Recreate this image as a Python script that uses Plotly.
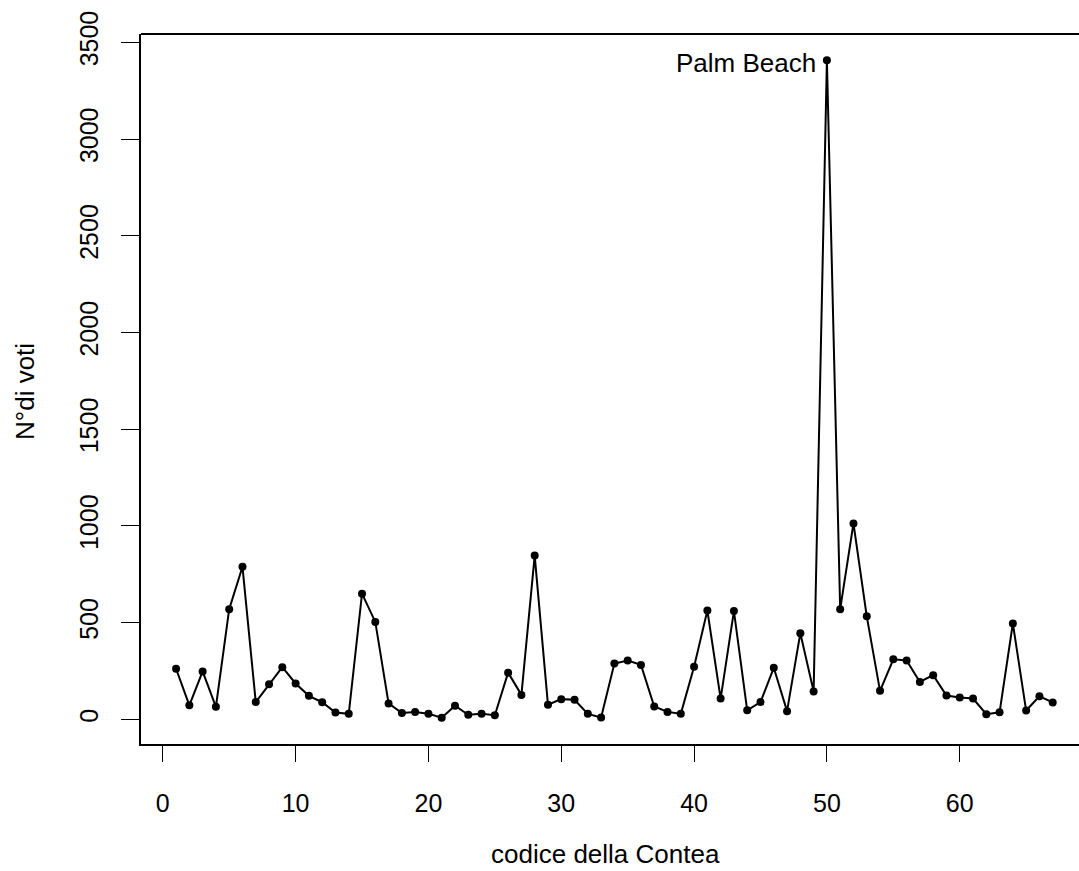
import plotly.graph_objects as go

county_code = list(range(1, 68))
votes = [262, 73, 248, 65, 570, 789, 90, 182, 270, 186,
         122, 89, 36, 29, 650, 504, 83, 33, 39, 29,
         9, 71, 24, 30, 22, 242, 127, 847, 76, 105,
         102, 29, 10, 289, 305, 282, 67, 39, 29, 272,
         563, 108, 560, 47, 90, 267, 43, 446, 145, 3407,
         570, 1013, 533, 148, 311, 305, 194, 229, 124, 114,
         108, 27, 37, 496, 46, 120, 88]
x_ticks = [0, 10, 20, 30, 40, 50, 60]
y_ticks = [0, 500, 1000, 1500, 2000, 2500, 3000, 3500]
label_idx = 49
label_text = "Palm Beach"

FONT = "Liberation Sans, Arial, sans-serif"

# plot region in pixels: left 141, right 1079, top 34, bottom 744
L, T, B = 141, 34, 744
W, H = 1079, 871

fig = go.Figure()
fig.add_trace(go.Scatter(
    x=county_code, y=votes, mode="lines+markers",
    line=dict(color="black", width=2),
    marker=dict(color="black", size=8, symbol="circle"),
    showlegend=False, hoverinfo="x+y"))

annotations = [
    dict(x=county_code[label_idx], y=votes[label_idx], xref="x", yref="y", text=label_text,
         showarrow=False, xanchor="right", yanchor="middle", xshift=-9, yshift=-3,
         font=dict(family=FONT, size=26, color="black")),
    dict(text="codice della Contea", xref="paper", yref="paper",
         x=(605 - L) / (W - L), y=0, yshift=-(854 - B),
         xanchor="center", yanchor="middle", showarrow=False,
         font=dict(family=FONT, size=26, color="black")),
    dict(text="N°di voti", xref="paper", yref="paper",
         x=0, y=(B - 392) / (B - T), xshift=-(L - 25),
         xanchor="center", yanchor="middle", textangle=-90, showarrow=False,
         font=dict(family=FONT, size=26, color="black")),
]

fig.update_layout(
    width=W, height=H,
    margin=dict(l=L, r=0, t=T, b=H - B),
    paper_bgcolor="white", plot_bgcolor="white",
    font=dict(family=FONT, size=25, color="black"),
    xaxis=dict(range=[-1.64, 68.98], tickvals=x_ticks, ticks="outside", ticklen=16,
               tickwidth=1.3, tickcolor="black", showline=True, linecolor="black", linewidth=2,
               showgrid=False, zeroline=False, ticklabelstandoff=20,
               tickfont=dict(size=25, family=FONT)),
    yaxis=dict(range=[-126.9, 3542.9], tickvals=y_ticks, ticks="outside", ticklen=18,
               tickwidth=1.3, tickcolor="black", showline=True, linecolor="black", linewidth=2,
               showgrid=False, zeroline=False, tickangle=-90, ticklabelstandoff=13,
               tickfont=dict(size=25, family=FONT)),
    shapes=[dict(type="line", xref="paper", yref="paper", x0=0, x1=1, y0=1, y1=1,
                 line=dict(color="black", width=2))],
    annotations=annotations,
)

fig.write_html("out.html")
